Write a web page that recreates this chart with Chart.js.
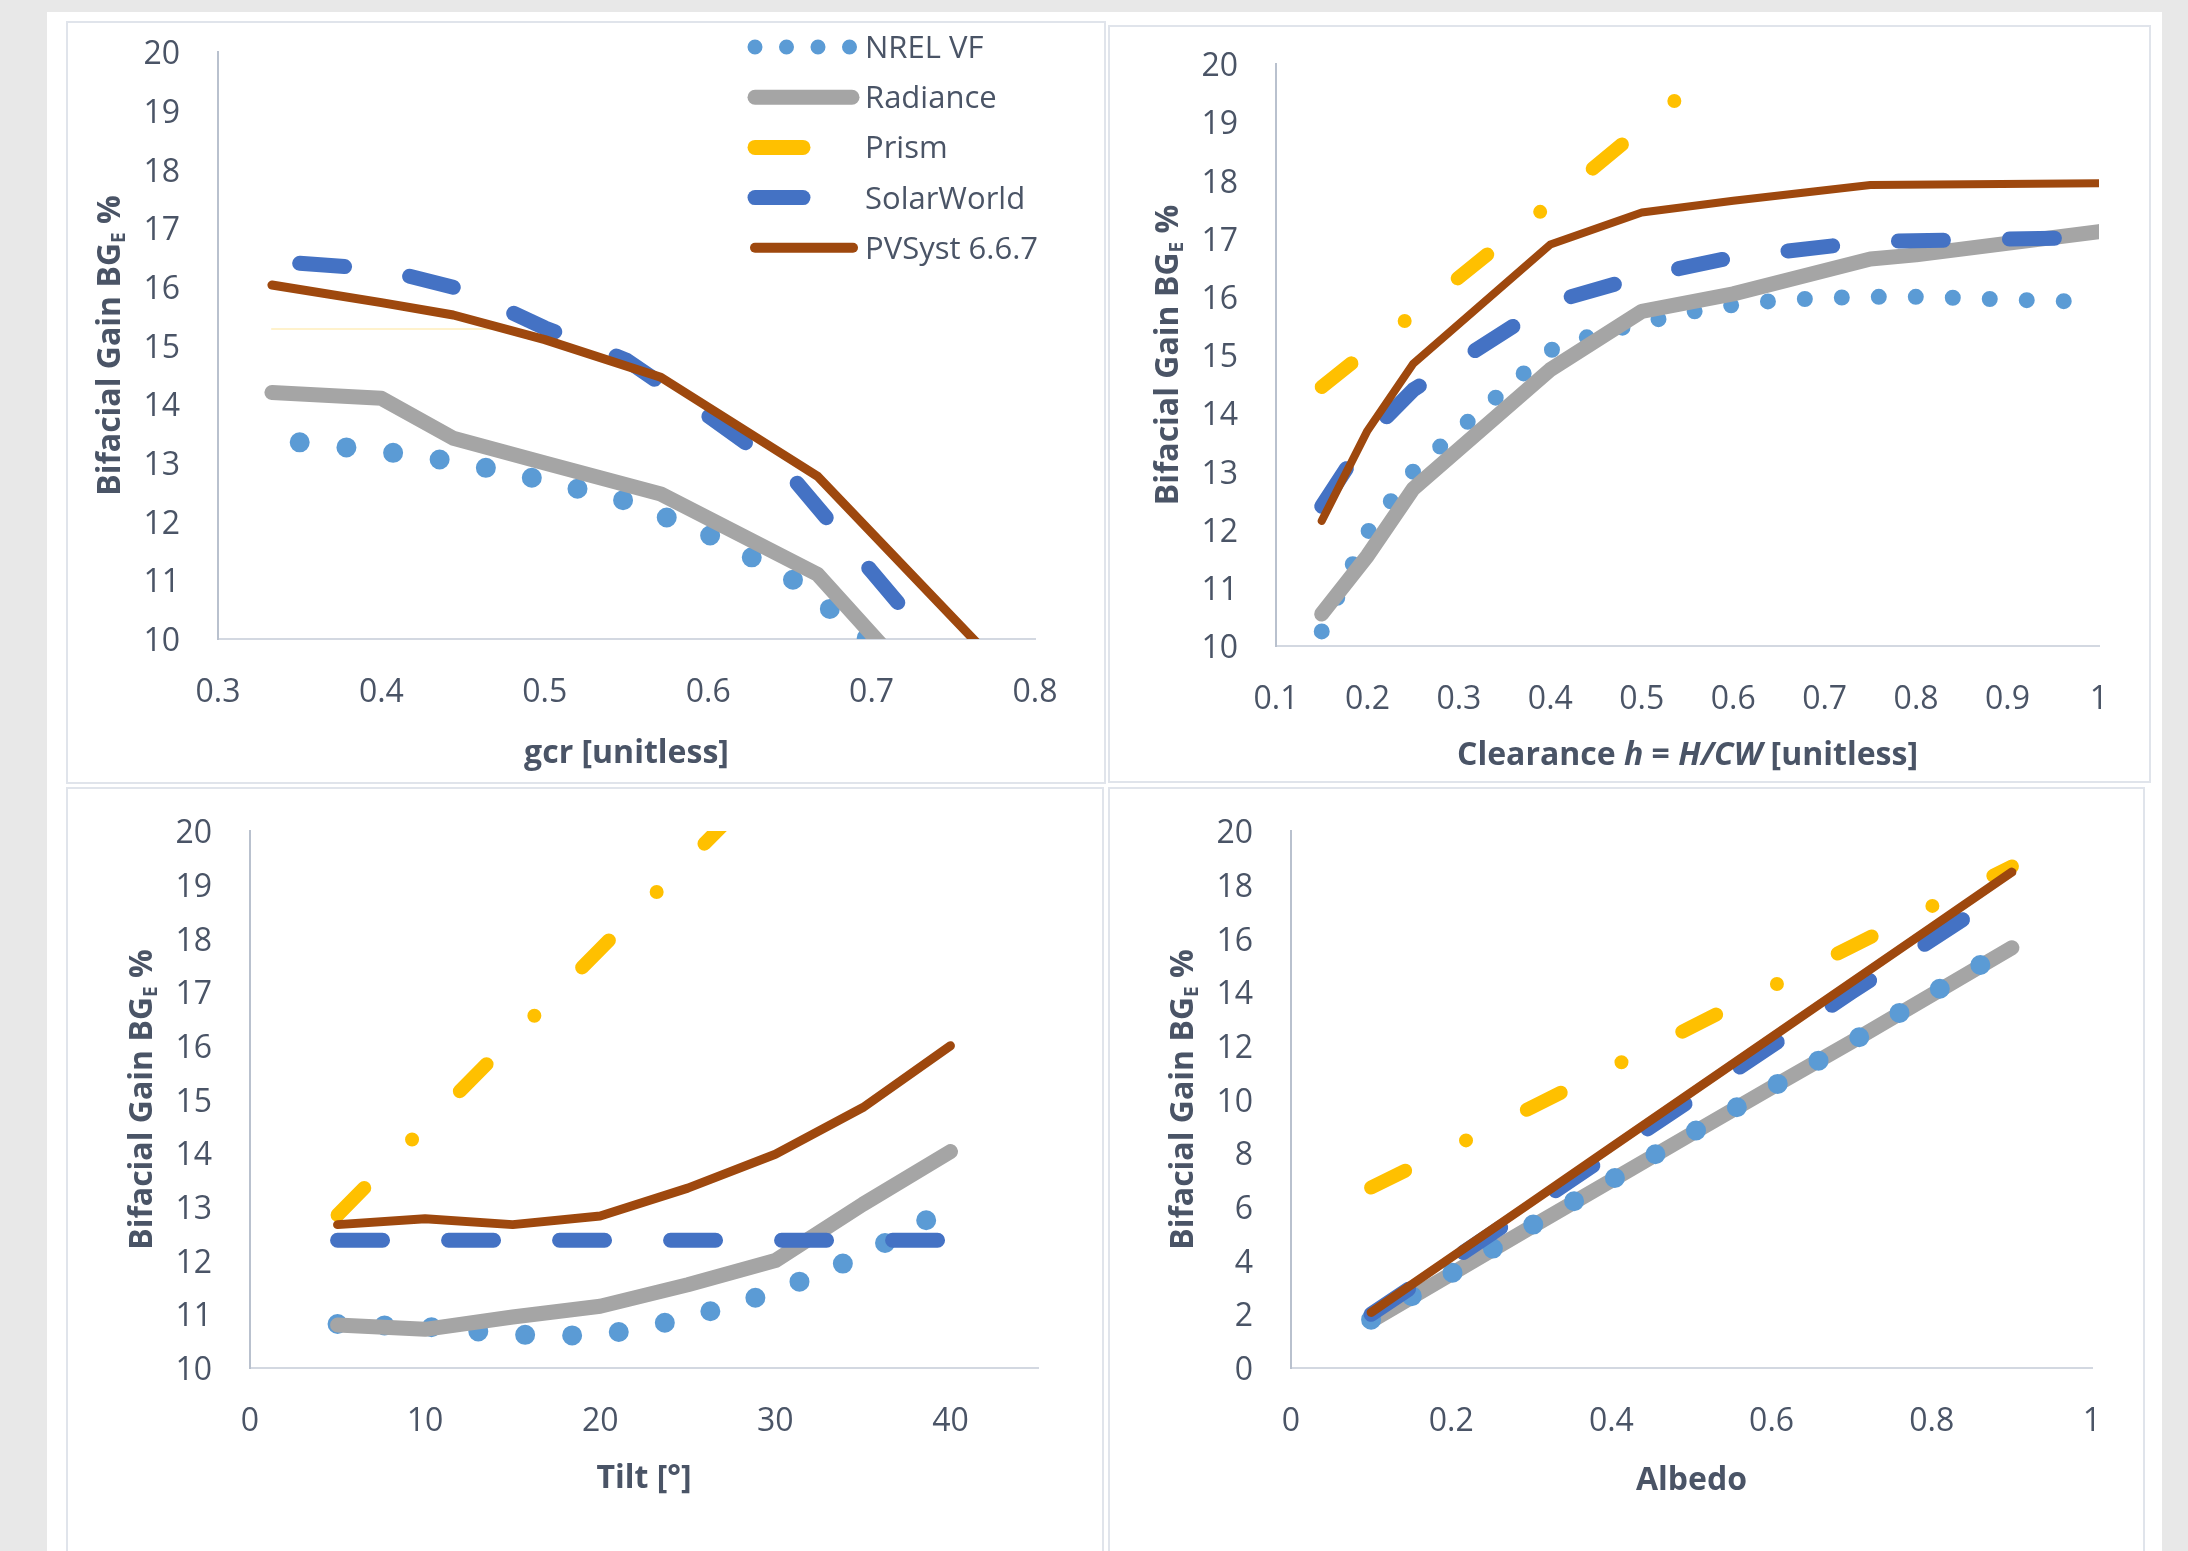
<!DOCTYPE html>
<html>
<head>
<meta charset="utf-8">
<title>Bifacial Gain</title>
<script src="https://cdn.jsdelivr.net/npm/chart.js@4.4.1/dist/chart.umd.min.js"></script>
<style>
  body { margin:0; background:#e8e8e8; width:2188px; height:1551px; overflow:hidden; position:relative; }
  #sheet { position:absolute; left:47px; top:12px; width:2115px; height:1539px; background:#fff; }
  .panel { position:absolute; box-sizing:border-box; border:2px solid #e0e4eb; background:#fff; }
  .chart { position:absolute; }
</style>
</head>
<body>
<div id="sheet"></div>
<div class="panel" style="left:66px;top:21px;width:1040px;height:763px"></div>
<div class="panel" style="left:1108px;top:25px;width:1043px;height:758px"></div>
<div class="panel" style="left:66px;top:787px;width:1038px;height:800px"></div>
<div class="panel" style="left:1108px;top:787px;width:1037px;height:800px"></div>
<div class="chart" style="left:66px;top:21px;width:1040px;height:763px"><canvas id="gcrChart"></canvas></div>
<div class="chart" style="left:1108px;top:25px;width:1043px;height:758px"><canvas id="clearChart"></canvas></div>
<div class="chart" style="left:66px;top:787px;width:1038px;height:764px"><canvas id="tiltChart"></canvas></div>
<div class="chart" style="left:1108px;top:787px;width:1037px;height:764px"><canvas id="albedoChart"></canvas></div>
<script>
// ---- data ----
// gcr
var gcrTicks = [0.3, 0.4, 0.5, 0.6, 0.7, 0.8];
var gcrTickLabels = ['0.3', '0.4', '0.5', '0.6', '0.7', '0.8'];
var gcrNrelX = [0.35, 0.4, 0.45, 0.5, 0.55, 0.6, 0.65, 0.7, 0.75];
var gcrNrelY = [13.35, 13.2, 13.0, 12.7, 12.35, 11.78, 11.05, 9.95, 8.6];
var gcrRadX = [0.333, 0.4, 0.444, 0.5, 0.571, 0.667, 0.8];
var gcrRadY = [14.2, 14.1, 13.42, 13.0, 12.47, 11.1, 7.0];
var gcrPrismX = [0.333, 0.471];
var gcrPrismY = [15.28, 15.28];
var gcrSolarX = [0.35, 0.4, 0.45, 0.5, 0.55, 0.6, 0.65, 0.7, 0.75];
var gcrSolarY = [16.4, 16.3, 15.95, 15.3, 14.75, 13.8, 12.8, 11.15, 9.5];
var gcrPvX = [0.333, 0.4, 0.444, 0.5, 0.571, 0.667, 0.8];
var gcrPvY = [16.03, 15.73, 15.52, 15.1, 14.46, 12.77, 8.9];

// clearance h
var clearTicks = [0.1, 0.2, 0.3, 0.4, 0.5, 0.6, 0.7, 0.8, 0.9, 1];
var clearTickLabels = ['0.1', '0.2', '0.3', '0.4', '0.5', '0.6', '0.7', '0.8', '0.9', '1'];
var clearNrelX = [0.15, 0.2, 0.25, 0.3, 0.35, 0.4, 0.45, 0.5, 0.55, 0.6, 0.65, 0.7, 0.75, 0.8, 0.85, 0.9, 0.95, 0.975];
var clearNrelY = [10.25, 11.95, 13.0, 13.72, 14.4, 15.08, 15.36, 15.55, 15.73, 15.86, 15.94, 15.98, 16.0, 16.0, 15.98, 15.95, 15.93, 15.92];
var clearRadX = [0.15, 0.2, 0.25, 0.4, 0.5, 0.6, 0.75, 0.8, 1.0];
var clearRadY = [10.55, 11.55, 12.7, 14.75, 15.75, 16.05, 16.65, 16.72, 17.12];
var clearPrismX = [0.15, 0.25, 0.4, 0.5, 0.55];
var clearPrismY = [14.45, 15.7, 17.6, 18.9, 19.55];
var clearSolarX = [0.15, 0.2, 0.25, 0.4, 0.5, 0.6, 0.75, 1.0];
var clearSolarY = [12.4, 13.6, 14.4, 15.9, 16.35, 16.68, 16.95, 17.02];
var clearPvX = [0.15, 0.2, 0.25, 0.4, 0.5, 0.6, 0.75, 1.0];
var clearPvY = [12.15, 13.7, 14.85, 16.9, 17.45, 17.65, 17.92, 17.95];

// tilt
var tiltTicks = [0, 10, 20, 30, 40];
var tiltTickLabels = ['0', '10', '20', '30', '40'];
var tiltX = [5, 10, 15, 20, 25, 30, 35, 40];
var tiltNrel = [10.82, 10.77, 10.62, 10.6, 10.93, 11.42, 12.1, 13.0];
var tiltRad = [10.8, 10.72, 10.95, 11.15, 11.55, 12.0, 13.05, 14.03];
var tiltPrism = [12.85, 14.5, 16.15, 17.8, 19.45, 21.1, 22.75, 24.4];
var tiltSolar = [12.38, 12.38, 12.38, 12.38, 12.38, 12.38, 12.38, 12.38];
var tiltPv = [12.67, 12.78, 12.67, 12.83, 13.35, 13.98, 14.85, 16.0];

// albedo
var albTicks = [0, 0.2, 0.4, 0.6, 0.8, 1];
var albTickLabels = ['0', '0.2', '0.4', '0.6', '0.8', '1'];
var albX = [0.1, 0.2, 0.3, 0.4, 0.5, 0.6, 0.7, 0.8, 0.9];
var albNrel = [1.8, 3.52, 5.3, 7.0, 8.75, 10.45, 12.15, 13.95, 15.7];
var albRad = [1.75, 3.5, 5.25, 6.98, 8.72, 10.45, 12.15, 13.9, 15.65];
var albPrism = [6.72, 8.2, 9.7, 11.2, 12.7, 14.2, 15.7, 17.2, 18.68];
var albSolar = [2.0, 4.0, 6.0, 8.0, 10.0, 12.0, 14.0, 15.95, 17.9];
var albPv = [2.07, 4.12, 6.17, 8.22, 10.27, 12.32, 14.37, 16.42, 18.47];

// ---- styles ----
var textColor = '#4a5466';
Chart.defaults.font.family = "'Open Sans', sans-serif";

var nrel = {label: 'NREL VF', borderColor: '#5b9bd5', borderWidth: 20, borderDash: [0, 47]};
var nrelSmall = {label: 'NREL VF', borderColor: '#5b9bd5', borderWidth: 16, borderDash: [0, 37]};
var radiance = {label: 'Radiance', borderColor: '#a5a5a5', borderWidth: 15};
var prism = {label: 'Prism', borderColor: '#ffc000', borderWidth: 14, borderDash: [38, 68, 0, 68]};
var prismFaint = {label: 'Prism', borderColor: 'rgba(255,192,0,0.2)', borderWidth: 2};
var solar = {label: 'SolarWorld', borderColor: '#4472c4', borderWidth: 15, borderDash: [45, 66]};
var pvsyst = {label: 'PVSyst 6.6.7', borderColor: '#9e480e', borderWidth: 9};

function line(xs, ys, style, order) {
  return Object.assign({
    data: xs.map(function (x, i) { return {x: x, y: ys[i]}; }),
    pointRadius: 0, pointHoverRadius: 0, tension: 0, fill: false, clip: 0,
    borderCapStyle: 'round', borderJoinStyle: 'round', order: order
  }, style);
}

// axis titles with bold / italic / subscript parts; cy is the visual centre of the capitals
function drawRich(ctx, parts, cx, cy) {
  var size = 32, w = 0;
  parts.forEach(function (p) {
    ctx.font = (p.it ? 'italic ' : '') + 'bold ' + (p.sub ? 19 : size) + "px 'Open Sans', sans-serif";
    p.w = ctx.measureText(p.t).width;
    w += p.w;
  });
  var x = cx - w / 2, base = cy + 11.5;
  ctx.textBaseline = 'alphabetic';
  parts.forEach(function (p) {
    ctx.font = (p.it ? 'italic ' : '') + 'bold ' + (p.sub ? 19 : size) + "px 'Open Sans', sans-serif";
    ctx.fillText(p.t, x, base + (p.sub ? 5 : 0));
    x += p.w;
  });
}

var yTitle = [{t: 'Bifacial Gain BG'}, {t: 'E', sub: true}, {t: ' %'}];

var richTitles = {
  id: 'richTitles',
  afterDraw: function (chart, args, opts) {
    var ctx = chart.ctx, a = chart.chartArea;
    ctx.save();
    ctx.fillStyle = textColor;
    ctx.textAlign = 'left';
    drawRich(ctx, opts.x, (a.left + a.right) / 2, a.bottom + opts.xGap);
    ctx.translate(a.left - 110, (a.top + a.bottom) / 2);
    ctx.rotate(-Math.PI / 2);
    drawRich(ctx, yTitle, 0, 0);
    ctx.restore();
  }
};

var legendBox = {
  id: 'legendBox',
  afterDraw: function (chart) {
    var ctx = chart.ctx;
    var rows = [
      {s: nrel, x2: 784, w: 15, dash: [0, 31.5]},
      {s: radiance, x2: 786, w: 15, dash: []},
      {s: prism, x2: 737, w: 15, dash: []},
      {s: solar, x2: 737, w: 15, dash: []},
      {s: pvsyst, x2: 787, w: 10, dash: []}
    ];
    ctx.save();
    rows.forEach(function (r, i) {
      var y = 26 + i * 50.2;
      ctx.beginPath();
      ctx.strokeStyle = r.s.borderColor;
      ctx.lineWidth = r.w;
      ctx.lineCap = 'round';
      ctx.setLineDash(r.dash);
      ctx.moveTo(689, y);
      ctx.lineTo(r.x2, y);
      ctx.stroke();
      ctx.setLineDash([]);
      ctx.fillStyle = textColor;
      ctx.font = "31px 'Open Sans', sans-serif";
      ctx.textBaseline = 'alphabetic';
      ctx.fillText(r.s.label, 799, y + 11);
    });
    ctx.restore();
  }
};

function makeChart(id, datasets, xa, ya, box, xTitle, extra) {
  return new Chart(document.getElementById(id), {
    type: 'line',
    data: {datasets: datasets},
    options: {
      animation: false, responsive: true, maintainAspectRatio: false, devicePixelRatio: 1,
      events: [],
      layout: {padding: {left: 0, top: box.top, right: box.right, bottom: 0}},
      scales: {
        x: {
          type: 'linear', min: xa.min, max: xa.max,
          afterBuildTicks: function (s) { s.ticks = xa.ticks.map(function (v) { return {value: v}; }); },
          afterFit: function (s) { s.height = box.xh; s.paddingLeft = 0; s.paddingRight = 0; },
          grid: {display: false, drawTicks: false},
          border: {display: true, color: '#d3d8e1', width: 2},
          ticks: {padding: 35, color: textColor, font: {size: 32}, autoSkip: false, maxRotation: 0,
                  callback: function (v, i) { return xa.labels[i]; }}
        },
        y: {
          type: 'linear', min: ya.min, max: ya.max,
          afterFit: function (s) { s.width = box.yw; s.paddingTop = 0; s.paddingBottom = 0; },
          grid: {display: false, drawTicks: false},
          border: {display: true, color: '#b9c1ce', width: 2},
          ticks: {stepSize: ya.step, padding: 38, labelOffset: 3, color: textColor, font: {size: 32}}
        }
      },
      plugins: {
        legend: {display: false}, tooltip: {enabled: false},
        richTitles: {x: xTitle, xGap: box.xGap}
      }
    },
    plugins: [richTitles].concat(extra || [])
  });
}

makeChart('gcrChart', [
  line(gcrNrelX, gcrNrelY, nrel, 5),
  line(gcrRadX, gcrRadY, radiance, 4),
  line(gcrPrismX, gcrPrismY, prismFaint, 3),
  line(gcrSolarX, gcrSolarY, solar, 2),
  line(gcrPvX, gcrPvY, pvsyst, 1)
], {min: 0.3, max: 0.8, ticks: gcrTicks, labels: gcrTickLabels},
   {min: 10, max: 20, step: 1},
   {yw: 152, right: 71, top: 31, xh: 145, xGap: 112},
   [{t: 'gcr [unitless]'}], [legendBox]);

makeChart('clearChart', [
  line(clearNrelX, clearNrelY, nrelSmall, 5),
  line(clearRadX, clearRadY, radiance, 4),
  line(clearPrismX, clearPrismY, prism, 3),
  line(clearSolarX, clearSolarY, solar, 2),
  line(clearPvX, clearPvY, Object.assign({}, pvsyst, {borderWidth: 8}), 1)
], {min: 0.1, max: 1, ticks: clearTicks, labels: clearTickLabels},
   {min: 10, max: 20, step: 1},
   {yw: 168, right: 52, top: 39, xh: 137, xGap: 107},
   [{t: 'Clearance '}, {t: 'h', it: true}, {t: ' = '}, {t: 'H/CW', it: true}, {t: ' [unitless]'}]);

makeChart('tiltChart', [
  line(tiltX, tiltNrel, nrel, 5),
  line(tiltX, tiltRad, radiance, 4),
  line(tiltX, tiltPrism, prism, 3),
  line(tiltX, tiltSolar, solar, 2),
  line(tiltX, tiltPv, pvsyst, 1)
], {min: 0, max: 45, ticks: tiltTicks, labels: tiltTickLabels},
   {min: 10, max: 20, step: 1},
   {yw: 184, right: 66, top: 44, xh: 183, xGap: 108},
   [{t: 'Tilt [°]'}]);

makeChart('albedoChart', [
  line(albX, albNrel, nrel, 3.5),
  line(albX, albRad, radiance, 4),
  line(albX, albPrism, prism, 3),
  line(albX, albSolar, solar, 2),
  line(albX, albPv, pvsyst, 1)
], {min: 0, max: 1, ticks: albTicks, labels: albTickLabels},
   {min: 0, max: 20, step: 2},
   {yw: 183, right: 53, top: 44, xh: 183, xGap: 110},
   [{t: 'Albedo'}]);
</script>
</body>
</html>
